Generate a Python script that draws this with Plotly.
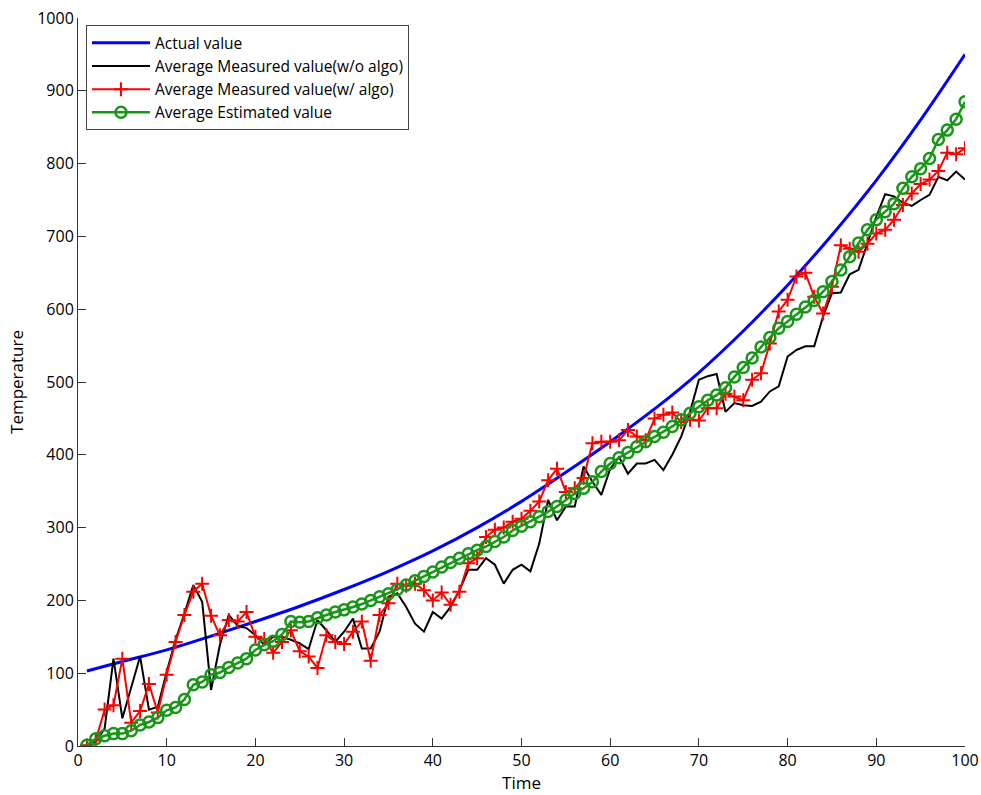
import plotly.graph_objects as go

time = list(range(1, 101))

actual_t = [1, 5, 10, 15, 20, 25, 30, 35, 40, 45, 50, 55, 60, 65, 70, 75, 80, 85, 90, 95, 100]
actual_v = [103, 116, 132, 151, 171, 192, 215, 240, 268, 300, 336, 376, 418, 463, 513, 570, 633, 702, 777, 860, 950]

measured_wo = [0, 6, 24, 120, 38, 79, 123, 50, 54, 102,
               146, 182, 221, 198, 77, 139, 180, 165, 162, 152,
               139, 150, 150, 146, 141, 133, 173, 159, 143, 157,
               175, 134, 134, 157, 205, 210, 191, 168, 157, 184,
               175, 191, 214, 242, 242, 258, 249, 223, 242, 249,
               240, 278, 338, 310, 329, 329, 384, 363, 345, 381,
               397, 374, 388, 388, 393, 379, 400, 425, 459, 503,
               508, 511, 459, 471, 468, 467, 473, 487, 494, 535,
               544, 549, 549, 590, 622, 623, 648, 654, 690, 727,
               758, 755, 746, 742, 750, 757, 782, 777, 789, 778]

measured_w = [1, 8, 50, 56, 120, 32, 48, 85, 46, 98,
              143, 180, 212, 223, 179, 152, 173, 171, 184, 150,
              147, 128, 143, 159, 130, 123, 107, 152, 143, 140,
              157, 171, 117, 180, 196, 223, 220, 223, 214, 200,
              211, 194, 212, 251, 258, 287, 297, 300, 308, 312,
              323, 336, 365, 381, 349, 354, 368, 416, 418, 418,
              420, 434, 425, 420, 450, 455, 458, 445, 448, 447,
              464, 464, 484, 480, 475, 503, 512, 553, 597, 613,
              645, 650, 617, 594, 631, 688, 683, 679, 690, 704,
              709, 723, 743, 759, 772, 778, 790, 815, 813, 821]

estimated = [1, 10, 14, 17, 17, 21, 29, 33, 39, 49,
             53, 64, 84, 88, 98, 101, 108, 114, 120, 132,
             139, 144, 153, 171, 170, 171, 176, 180, 184, 187,
             191, 195, 200, 205, 209, 215, 221, 227, 233, 239,
             246, 252, 258, 264, 269, 274, 281, 287, 296, 302,
             308, 315, 322, 329, 338, 347, 354, 363, 377, 388,
             396, 403, 411, 418, 425, 431, 439, 448, 457, 466,
             475, 482, 492, 507, 520, 533, 548, 561, 574, 583,
             593, 603, 612, 624, 638, 654, 672, 691, 709, 723,
             734, 745, 766, 782, 793, 807, 833, 846, 861, 885]

x_ticks = list(range(0, 101, 10))
y_ticks = list(range(0, 1001, 100))

FONT = "Open Sans"
GREEN = "rgb(24,150,24)"

fig = go.Figure()
fig.add_trace(go.Scatter(x=actual_t, y=actual_v, mode="lines", name="Actual value",
                         line=dict(color="rgb(0,0,255)", width=3, shape="spline")))
fig.add_trace(go.Scatter(x=time, y=measured_wo, mode="lines", name="Average Measured value(w/o algo)",
                         line=dict(color="black", width=2)))
fig.add_trace(go.Scatter(x=time, y=measured_w, mode="lines+markers", name="Average Measured value(w/ algo)",
                         line=dict(color="rgb(255,0,0)", width=2),
                         marker=dict(symbol="cross-thin", size=10, color="rgb(255,0,0)",
                                     line=dict(width=2, color="rgb(255,0,0)"))))
fig.add_trace(go.Scatter(x=time, y=estimated, mode="lines+markers", name="Average Estimated value",
                         line=dict(color=GREEN, width=2.5),
                         marker=dict(symbol="circle-open", size=11, color=GREEN,
                                     line=dict(width=2.5, color=GREEN))))

fig.update_layout(
    width=981, height=795,
    margin=dict(l=78, r=16, t=18, b=49, autoexpand=False),
    paper_bgcolor="white", plot_bgcolor="white",
    font=dict(family=FONT, size=15, color="black"),
    showlegend=True,
    legend=dict(x=0.009, y=0.99, xanchor="left", yanchor="top",
                bgcolor="white", bordercolor="#444", borderwidth=1,
                font=dict(family=FONT, size=15.5), tracegroupgap=0,
                itemwidth=58),
)
fig.update_xaxes(range=[0, 100], tickvals=x_ticks, ticks="inside", ticklen=8,
                 tickcolor="#333", showline=True, linecolor="#333", linewidth=1,
                 showgrid=False, zeroline=False, mirror=False, automargin=False,
                 ticklabeloverflow="allow",
                 title=dict(text="Time", font=dict(family=FONT, size=17), standoff=2),
                 tickfont=dict(family=FONT, size=16))
fig.update_yaxes(range=[0, 1000], tickvals=y_ticks, ticks="inside", ticklen=8,
                 tickcolor="#333", showline=True, linecolor="#333", linewidth=1,
                 showgrid=False, zeroline=False, mirror=False, automargin=False,
                 ticklabeloverflow="allow",
                 title=dict(text="Temperature", font=dict(family=FONT, size=17), standoff=9),
                 tickfont=dict(family=FONT, size=16))

# remove the default 8px page margin so the figure fills the window exactly
fig.write_html("out.html",
               config={"displayModeBar": False},
               post_script="document.body.style.margin='0';document.body.style.overflow='hidden';")
